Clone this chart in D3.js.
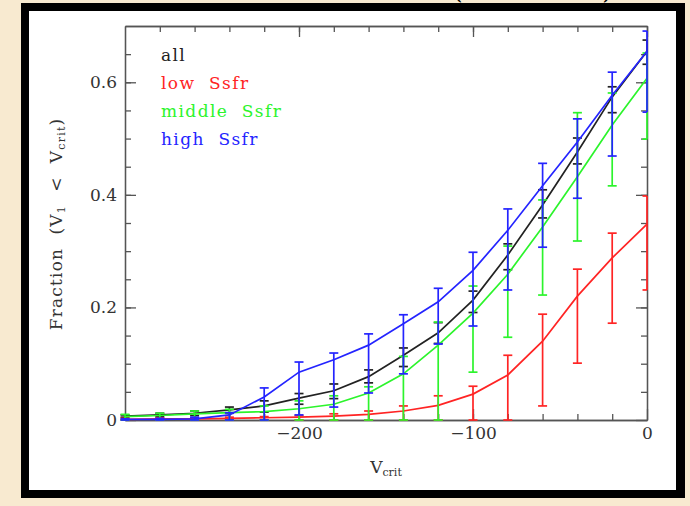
<!DOCTYPE html>
<html>
<head>
<meta charset="utf-8">
<script src="https://cdn.jsdelivr.net/npm/d3@7"></script>
<style>
  html, body { margin: 0; padding: 0; background: #f8ead0; }
  svg { display: block; }
  text { font-family: "DejaVu Serif", "Liberation Serif", serif; }
</style>
</head>
<body>
<svg id="chart" width="690" height="506"></svg>
<script>
// Critical velocity bins
const vcrit = [-300, -280, -260, -240, -220, -200, -180, -160, -140, -120, -100, -80, -60, -40, -20, 0];

// Cumulative fraction with V1 < Vcrit, and lower / upper error limits
const allFrac = [0.007, 0.009, 0.012, 0.018, 0.025, 0.039, 0.052, 0.077, 0.115, 0.155, 0.213, 0.293, 0.382, 0.476, 0.574, 0.655];
const allLo   = [0.005, 0.006, 0.008, 0.012, 0.014, 0.028, 0.038, 0.066, 0.095, 0.136, 0.191, 0.267, 0.359, 0.455, 0.546, 0.632];
const allHi   = [0.009, 0.012, 0.016, 0.023, 0.034, 0.047, 0.064, 0.089, 0.128, 0.173, 0.229, 0.313, 0.409, 0.501, 0.592, 0.675];

const lowFrac = [0.001, 0.002, 0.002, 0.003, 0.004, 0.005, 0.007, 0.010, 0.016, 0.026, 0.046, 0.080, 0.140, 0.220, 0.288, 0.348];
const lowLo   = [0, 0, 0, 0, 0, 0, 0, 0, 0, 0, 0, 0, 0.025, 0.101, 0.172, 0.231];
const lowHi   = [0.003, 0.004, 0.004, 0.005, 0.006, 0.008, 0.011, 0.016, 0.025, 0.043, 0.060, 0.115, 0.188, 0.268, 0.332, 0.398];

const midFrac = [0.006, 0.008, 0.011, 0.013, 0.015, 0.020, 0.028, 0.048, 0.082, 0.133, 0.190, 0.259, 0.343, 0.432, 0.524, 0.607];
const midLo   = [0, 0, 0, 0, 0, 0, 0, 0, 0, 0, 0.085, 0.147, 0.222, 0.318, 0.416, 0.499];
const midHi   = [0.010, 0.012, 0.016, 0.019, 0.025, 0.034, 0.043, 0.059, 0.113, 0.174, 0.238, 0.309, 0.391, 0.546, 0.581, 0.652];

const highFrac = [0.001, 0.001, 0.002, 0.009, 0.041, 0.085, 0.107, 0.133, 0.171, 0.210, 0.266, 0.337, 0.416, 0.494, 0.577, 0.655];
const highLo   = [0, 0, 0, 0, 0, 0.009, 0.023, 0.048, 0.082, 0.135, 0.167, 0.231, 0.307, 0.394, 0.469, 0.547];
const highHi   = [0.002, 0.003, 0.005, 0.013, 0.057, 0.103, 0.119, 0.153, 0.187, 0.234, 0.298, 0.375, 0.456, 0.535, 0.618, 0.691];

const seriesNames  = ["all", "low  Ssfr", "middle  Ssfr", "high  Ssfr"];
const seriesColors = ["#222222", "#ff2424", "#2cf42c", "#2424ff"];

const xMajorTicks = [-200, -100, 0];
const yMajorTicks = [0, 0.2, 0.4, 0.6];

const series = [
  { frac: allFrac,  lo: allLo,  hi: allHi },
  { frac: lowFrac,  lo: lowLo,  hi: lowHi },
  { frac: midFrac,  lo: midLo,  hi: midHi },
  { frac: highFrac, lo: highLo, hi: highHi }
].map((s, i) => ({
  name: seriesNames[i],
  color: seriesColors[i],
  points: vcrit.map((v, j) => ({ v, f: s.frac[j], lo: s.lo[j], hi: s.hi[j] }))
}));

const svg = d3.select("#chart");

// Slide frame
svg.append("rect").attr("x", 21).attr("y", 3).attr("width", 664).attr("height", 495).attr("fill", "#000");
svg.append("rect").attr("x", 29).attr("y", 11).attr("width", 647).attr("height", 479).attr("fill", "#fff");
// Bottoms of the heading's brackets peeking over the frame
svg.append("text").attr("x", 458).attr("y", -1).attr("font-size", 24).attr("text-anchor", "middle").text("(");
svg.append("text").attr("x", 607).attr("y", -1).attr("font-size", 24).attr("text-anchor", "middle").text(")");

const x = d3.scaleLinear().domain([-300, 0]).range([125, 647]);
const y = d3.scaleLinear().domain([0, 0.7]).range([420, 26]);

const axisColor = "#555";
const labelColor = "#333";

function styleAxis(g) {
  g.selectAll("path").attr("stroke", axisColor).attr("stroke-width", 1.3);
  g.selectAll("line").attr("stroke", axisColor).attr("stroke-width", 1.3);
  g.selectAll("text").attr("fill", labelColor).attr("font-size", 17)
    .attr("font-family", "DejaVu Serif, Liberation Serif, serif");
}

const xMinor = d3.range(-280, 0, 20);
const yMinor = d3.range(0.05, 0.7, 0.05).map(d => +d.toFixed(2));

// Bottom axis: minor then major ticks (inward)
svg.append("g").attr("transform", "translate(0,420)")
  .call(d3.axisBottom(x).tickValues(xMinor).tickSizeInner(-6).tickSizeOuter(0).tickFormat(""))
  .call(styleAxis);
svg.append("g").attr("transform", "translate(0,420)")
  .call(d3.axisBottom(x).tickValues(xMajorTicks).tickSizeInner(-11).tickSizeOuter(0).tickPadding(7)
    .tickFormat(d3.format("d")))
  .call(styleAxis);
// Top axis
svg.append("g").attr("transform", "translate(0,26)")
  .call(d3.axisTop(x).tickValues(xMinor).tickSizeInner(-6).tickSizeOuter(0).tickFormat(""))
  .call(styleAxis);
svg.append("g").attr("transform", "translate(0,26)")
  .call(d3.axisTop(x).tickValues(xMajorTicks).tickSizeInner(-11).tickSizeOuter(0).tickFormat(""))
  .call(styleAxis);
// Left axis
svg.append("g").attr("transform", "translate(125,0)")
  .call(d3.axisLeft(y).tickValues(yMinor).tickSizeInner(-6).tickSizeOuter(0).tickFormat(""))
  .call(styleAxis);
svg.append("g").attr("transform", "translate(125,0)")
  .call(d3.axisLeft(y).tickValues(yMajorTicks).tickSizeInner(-11).tickSizeOuter(0).tickPadding(8)
    .tickFormat(d => d === 0 ? "0" : d3.format(".1f")(d)))
  .call(styleAxis);
// Right axis
svg.append("g").attr("transform", "translate(647,0)")
  .call(d3.axisRight(y).tickValues(yMinor).tickSizeInner(-6).tickSizeOuter(0).tickFormat(""))
  .call(styleAxis);
svg.append("g").attr("transform", "translate(647,0)")
  .call(d3.axisRight(y).tickValues(yMajorTicks).tickSizeInner(-11).tickSizeOuter(0).tickFormat(""))
  .call(styleAxis);

// Curves with error bars
const line = d3.line().x(d => x(d.v)).y(d => y(d.f));
const capHalf = 4.5;

series.forEach(s => {
  const g = svg.append("g").attr("stroke", s.color).attr("fill", "none").attr("stroke-width", 1.7);
  g.append("path").datum(s.points).attr("d", line);
  const eb = g.selectAll("g.err").data(s.points).join("g").attr("class", "err");
  eb.append("line")
    .attr("x1", d => x(d.v)).attr("x2", d => x(d.v))
    .attr("y1", d => y(d.lo)).attr("y2", d => y(d.hi));
  eb.append("line")
    .attr("x1", d => x(d.v) - capHalf).attr("x2", d => Math.min(x(d.v) + capHalf, 647))
    .attr("y1", d => y(d.hi)).attr("y2", d => y(d.hi));
  eb.append("line")
    .attr("x1", d => x(d.v) - capHalf).attr("x2", d => Math.min(x(d.v) + capHalf, 647))
    .attr("y1", d => y(d.lo)).attr("y2", d => y(d.lo));
});

// Legend
series.forEach((s, i) => {
  svg.append("text")
    .attr("x", 161).attr("y", 61 + i * 28)
    .attr("font-size", 17).attr("fill", s.color)
    .attr("letter-spacing", 1.4)
    .style("white-space", "pre")
    .text(s.name);
});

// Axis titles
const xt = svg.append("text").attr("x", 386).attr("y", 473).attr("text-anchor", "middle")
  .attr("font-size", 17).attr("fill", labelColor);
xt.append("tspan").text("V");
xt.append("tspan").attr("font-size", 11).attr("dy", 3).text("crit");

const yt = svg.append("text").attr("transform", "translate(62,224) rotate(-90)")
  .attr("text-anchor", "middle").attr("font-size", 17).attr("fill", labelColor)
  .attr("letter-spacing", 1.2)
  .style("white-space", "pre");
yt.append("tspan").text("Fraction  (V");
yt.append("tspan").attr("font-size", 11).attr("dy", 3).text("1");
yt.append("tspan").attr("dy", -3).text("  <  V");
yt.append("tspan").attr("font-size", 11).attr("dy", 3).text("crit");
yt.append("tspan").attr("dy", -3).text(")");
</script>
</body>
</html>
